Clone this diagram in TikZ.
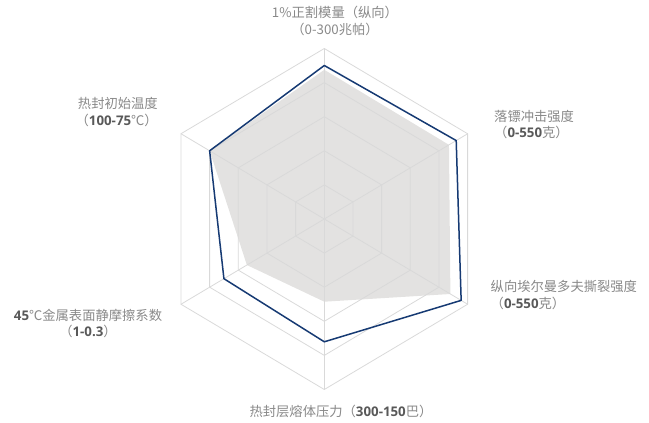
\documentclass[tikz,border=0pt]{standalone}
\usepackage{fontspec}
\setmainfont{Noto Sans CJK SC}
\newfontfamily\numfont{Open Sans}
\usepackage{xcolor}
\usepackage{tikz}

\definecolor{gridgray}{RGB}{217,217,217}
\definecolor{areagray}{RGB}{227,226,225}
\definecolor{seriesblue}{RGB}{22,58,115}
\definecolor{labelgray}{RGB}{137,137,137}
\definecolor{numgray}{RGB}{89,89,89}
\newcommand{\boldnum}[1]{{\numfont\bfseries\color{numgray}#1}}

\begin{document}
\begin{tikzpicture}[line cap=round,line join=round,x=1pt,y=1pt,
  axislabel/.style={text=labelgray,inner sep=0pt,font=\fontsize{13.3}{16.5}\selectfont}]
\useasboundingbox (0,0) rectangle (649,423);

\begin{scope}[shift={(324.3,204)},xscale=0.9707]
% grey series
\fill[areagray] (90:149.2)--(30:148.3)--(-30:150)--(-90:82.7)--(210:92.1)--(150:136.4)--cycle;

% rings
\draw[gridgray,line width=0.8pt] (90:34.1)--(30:34.1)--(-30:34.1)--(-90:34.1)--(210:34.1)--(150:34.1)--cycle;
\draw[gridgray,line width=0.8pt] (90:68.2)--(30:68.2)--(-30:68.2)--(-90:68.2)--(210:68.2)--(150:68.2)--cycle;
\draw[gridgray,line width=0.8pt] (90:102.3)--(30:102.3)--(-30:102.3)--(-90:102.3)--(210:102.3)--(150:102.3)--cycle;
\draw[gridgray,line width=0.8pt] (90:136.4)--(30:136.4)--(-30:136.4)--(-90:136.4)--(210:136.4)--(150:136.4)--cycle;
\draw[gridgray,line width=0.8pt] (90:170.5)--(30:170.5)--(-30:170.5)--(-90:170.5)--(210:170.5)--(150:170.5)--cycle;

% spokes
\draw[gridgray,line width=0.8pt] (0,0)--(90:170.5);
\draw[gridgray,line width=0.8pt] (0,0)--(30:170.5);
\draw[gridgray,line width=0.8pt] (0,0)--(-30:170.5);
\draw[gridgray,line width=0.8pt] (0,0)--(-90:170.5);
\draw[gridgray,line width=0.8pt] (0,0)--(210:170.5);
\draw[gridgray,line width=0.8pt] (0,0)--(150:170.5);

% blue series
\draw[seriesblue,line width=1.5pt] (90:153.5)--(30:156.9)--(-30:162.8)--(-90:122.8)--(210:119.4)--(150:136.4)--cycle;
\end{scope}

\node[axislabel,align=center] (modulus) at (335,402) {1\%正割模量（纵向）\\（0-300兆帕）};
\node[axislabel,align=left,anchor=west] (dart) at (494,298.6) {落镖冲击强度\\（\boldnum{0-550}克）};
\node[axislabel,align=left,anchor=west] (tear) at (490.5,128) {纵向埃尔曼多夫撕裂强度\\（\boldnum{0-550}克）};
\node[axislabel] (melt) at (341,11.3) {热封层熔体压力（\boldnum{300-150}巴）};
\node[axislabel,align=center] (friction) at (88,99.5) {\boldnum{45}℃金属表面静摩擦系数\\（\boldnum{1-0.3}）};
\node[axislabel,align=right,anchor=east] (seal) at (158,311) {热封初始温度\\（\boldnum{100-75}℃）};

\end{tikzpicture}
\end{document}
